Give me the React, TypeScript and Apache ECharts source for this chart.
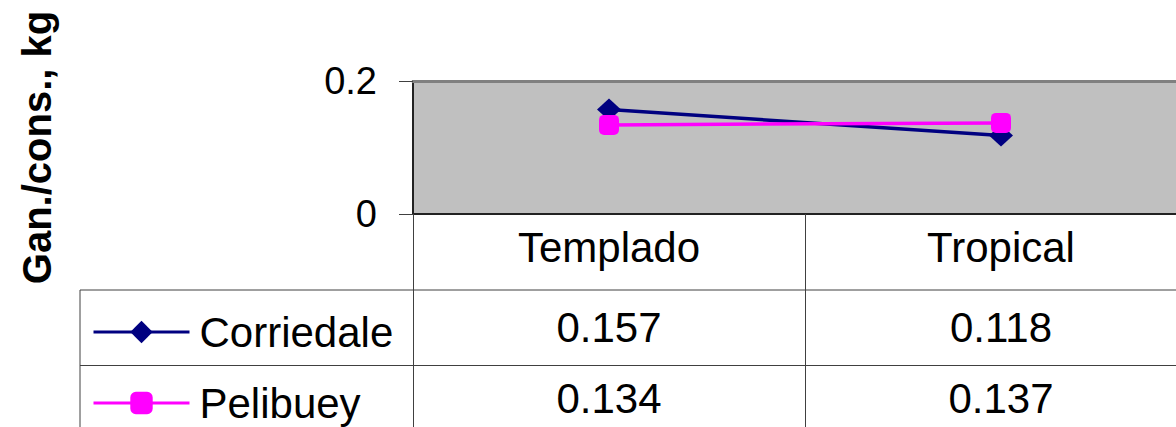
import React, { useEffect, useRef } from "react";
import * as echarts from "echarts";

const categories = ["Templado", "Tropical"];
const seriesNames = ["Corriedale", "Pelibuey"];
const corriedale = [0.157, 0.118];
const pelibuey = [0.134, 0.137];
const yTicks = [0, 0.2];
const yTitle = "Gan./cons., kg";

const FONT = "'Liberation Sans', Arial, sans-serif";
const GRID_LEFT = 413;
const GRID_TOP = 81;
const GRID_BOTTOM_Y = 214;
const CHART_W = 1200;
const CHART_H = 427;
const ROW_LINES = [290, 365.5];
const ROW_CENTERS = [327, 398];
const LINE_COLOR = "#404040";

export default function App() {
  const ref = useRef<HTMLDivElement>(null);

  useEffect(() => {
    if (!ref.current) return;
    const chart = echarts.init(ref.current, null, { renderer: "svg" });
    const allSeries = [corriedale, pelibuey];
    chart.setOption({
      animation: false,
      grid: {
        left: GRID_LEFT,
        top: GRID_TOP,
        right: CHART_W - 1197,
        bottom: CHART_H - GRID_BOTTOM_Y,
        containLabel: false,
        outerBoundsMode: "none",
        show: true,
        backgroundColor: "#C0C0C0",
        borderWidth: 0,
      },
      xAxis: [
        {
          type: "category",
          data: categories,
          boundaryGap: true,
          axisLine: { show: true, lineStyle: { color: "#222", width: 2 } },
          axisTick: { show: true, length: 213, lineStyle: { color: LINE_COLOR, width: 1 } },
          axisLabel: {
            fontSize: 42,
            fontFamily: FONT,
            color: "#000",
            margin: 33,
            verticalAlign: "middle",
          },
          splitLine: { show: false },
        },
        {
          type: "category",
          data: categories,
          position: "top",
          axisLine: { show: true, lineStyle: { color: "#808080", width: 3 } },
          axisTick: { show: false },
          axisLabel: { show: false },
        },
      ],
      yAxis: {
        type: "value",
        min: yTicks[0],
        max: yTicks[yTicks.length - 1],
        interval: yTicks[1] - yTicks[0],
        name: yTitle,
        nameLocation: "middle",
        nameGap: 356,
        nameRotate: 90,
        nameTextStyle: { fontSize: 40, fontWeight: "bold", fontFamily: FONT, color: "#000" },
        axisLine: { show: true, lineStyle: { color: "#222", width: 2 } },
        axisTick: { show: true, length: 14, lineStyle: { color: LINE_COLOR, width: 1 } },
        axisLabel: {
          fontSize: 38,
          fontFamily: FONT,
          color: "#000",
          margin: 36,
          formatter: (v: number) => (v === 0 ? "0" : String(v)),
        },
        splitLine: { show: false },
      },
      legend: {
        orient: "vertical",
        left: 92,
        top: 311,
        padding: 0,
        itemWidth: 96,
        itemHeight: 28,
        itemGap: 29,
        selectedMode: false,
        lineStyle: { width: 3 },
        textStyle: { fontSize: 42, fontFamily: FONT, color: "#000", padding: [0, 0, 0, 5] },
        data: seriesNames,
      },
      series: [
        {
          name: seriesNames[0],
          type: "line",
          data: corriedale,
          symbol: "diamond",
          symbolSize: [24, 22],
          lineStyle: { color: "#000080", width: 3.5 },
          itemStyle: { color: "#000080" },
        },
        {
          name: seriesNames[1],
          type: "line",
          data: pelibuey,
          symbol: "roundRect",
          symbolSize: 20,
          lineStyle: { color: "#FF00FF", width: 3.5 },
          itemStyle: { color: "#FF00FF" },
        },
      ],
    });

    const graphics: any[] = [];
    ROW_LINES.forEach((y) => {
      graphics.push({
        type: "line",
        shape: { x1: 80, y1: y, x2: CHART_W, y2: y },
        style: { stroke: LINE_COLOR, lineWidth: 1 },
        silent: true,
      });
    });
    graphics.push({
      type: "line",
      shape: { x1: 80, y1: ROW_LINES[0], x2: 80, y2: CHART_H },
      style: { stroke: LINE_COLOR, lineWidth: 1 },
      silent: true,
    });
    allSeries.forEach((vals, si) => {
      vals.forEach((v, ci) => {
        const x = chart.convertToPixel({ xAxisIndex: 0 }, categories[ci]) as number;
        graphics.push({
          type: "text",
          x,
          y: ROW_CENTERS[si],
          silent: true,
          style: {
            text: v.toFixed(3),
            fontSize: 42,
            fontFamily: FONT,
            fill: "#000",
            align: "center",
            verticalAlign: "middle",
          },
        });
      });
    });
    chart.setOption({ graphic: graphics });

    return () => chart.dispose();
  }, []);

  return (
    <div
      style={{
        position: "fixed",
        left: 0,
        top: 0,
        width: 1176,
        height: CHART_H,
        overflow: "hidden",
        background: "#fff",
      }}
    >
      <div ref={ref} style={{ width: CHART_W, height: CHART_H }} />
    </div>
  );
}
